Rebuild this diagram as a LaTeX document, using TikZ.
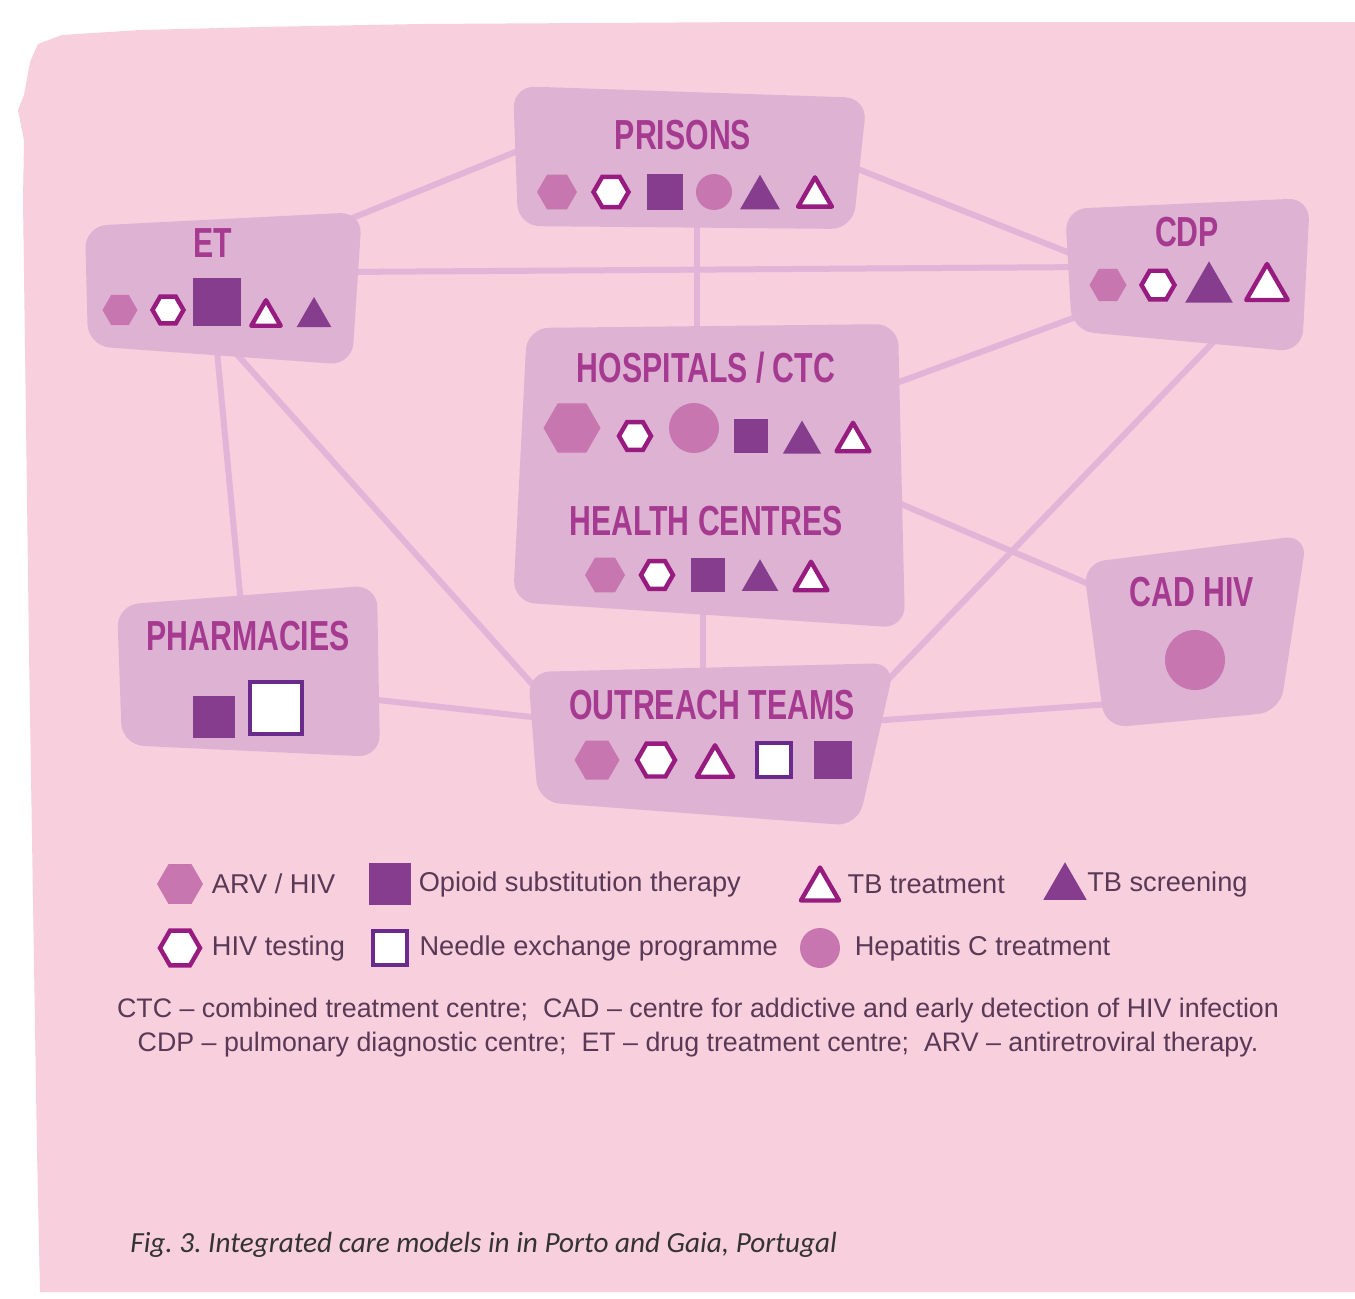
\documentclass[tikz,border=0pt]{standalone}
\usepackage{fontspec}
\setmainfont{Liberation Sans}
\newfontfamily\boxfont{Liberation Sans}[FakeStretch=0.72]
\newfontfamily\capfont{Carlito}
\usepackage{tikz}
\usetikzlibrary{shapes.geometric,positioning}
\usepackage{xcolor}
\frenchspacing

\definecolor{bgpink}{HTML}{F8CFDC}
\definecolor{boxlilac}{HTML}{DDB2D3}
\definecolor{linklilac}{HTML}{E2B4D7}
\definecolor{titlemag}{HTML}{A63A90}
\definecolor{arvpink}{HTML}{C876AF}
\definecolor{ostpurple}{HTML}{873D8E}
\definecolor{ringmag}{HTML}{981C80}
\definecolor{nepviolet}{HTML}{6B2B8C}
\definecolor{legtext}{HTML}{5A3957}

\begin{document}
\begin{tikzpicture}[
    x=0.5pt, y=-0.5pt,
    box/.style={fill=boxlilac, rounded corners=11pt},
    link/.style={draw=linklilac, line width=3pt},
    boxtitle/.style={text=titlemag, inner sep=0pt, font=\boxfont\bfseries\fontsize{21}{24}\selectfont},
    arv/.style={regular polygon, regular polygon sides=6, fill=arvpink, inner sep=0pt, minimum size=#1},
    hivt/.style={regular polygon, regular polygon sides=6, fill=white, draw=ringmag, line width=2.2pt, inner sep=0pt, minimum size=#1},
    ost/.style={rectangle, fill=ostpurple, inner sep=0pt, minimum size=#1},
    nep/.style={rectangle, fill=white, draw=nepviolet, line width=2.2pt, inner sep=0pt, minimum size=#1},
    hcv/.style={circle, fill=arvpink, inner sep=0pt, minimum size=#1},
    tbs/.style={regular polygon, regular polygon sides=3, fill=ostpurple, inner sep=0pt, minimum size=#1, yshift=-#1/8},
    tbt/.style={regular polygon, regular polygon sides=3, fill=white, draw=ringmag, line width=2.2pt, line join=round, inner sep=0pt, minimum size=#1, yshift=-#1/8},
    legtext/.style={text=legtext, inner sep=0pt, font=\fontsize{13.6}{15}\selectfont},
    notetext/.style={text=legtext, inner sep=0pt, font=\fontsize{13.4}{15}\selectfont},
    captext/.style={text=black!80, inner sep=0pt, font=\capfont\itshape\fontsize{14.6}{16}\selectfont}
]
\useasboundingbox (0,0) rectangle (1355,1298);
\fill[white] (0,0) rectangle (1355,1298);
% paper
\fill[bgpink] (30,62) -- (38,44) -- (62,35) -- (140,30) -- (260,27) -- (420,24)
    -- (760,22) -- (1355,22) -- (1355,1292) -- (40,1292) -- (37,1150) -- (33,900)
    -- (29,650) -- (26,420) -- (23,200) -- (24,140) -- (18,110) -- (24,95) -- cycle;

% connector ends
\coordinate (et-ne) at (340,223);
\coordinate (prisons-w) at (540,142);
\coordinate (prisons-e) at (840,162);
\coordinate (cdp-w) at (1090,261);
\coordinate (et-e) at (340,272);
\coordinate (cdp-w2) at (1090,267);
\coordinate (prisons-s) at (697,215);
\coordinate (hosp-n) at (697,345);
\coordinate (hosp-ne) at (880,389);
\coordinate (cdp-sw) at (1095,310);
\coordinate (cdp-s) at (1225,330);
\coordinate (out-ne) at (880,688);
\coordinate (et-s) at (216,340);
\coordinate (pharm-n) at (242,615);
\coordinate (et-se) at (225,341);
\coordinate (out-nw) at (550,704);
\coordinate (hosp-e) at (880,495);
\coordinate (cad-w) at (1105,591);
\coordinate (hosp-s) at (703,610);
\coordinate (out-n) at (703,680);
\coordinate (pharm-e) at (360,698);
\coordinate (out-w) at (550,719);
\coordinate (out-e) at (870,721);
\coordinate (cad-sw) at (1125,703);

% connectors
\draw[link] (et-ne) -- (prisons-w);
\draw[link] (prisons-e) -- (cdp-w);
\draw[link] (et-e) -- (cdp-w2);
\draw[link] (prisons-s) -- (hosp-n);
\draw[link] (hosp-ne) -- (cdp-sw);
\draw[link] (cdp-s) -- (out-ne);
\draw[link] (et-s) -- (pharm-n);
\draw[link] (et-se) -- (out-nw);
\draw[link] (hosp-e) -- (cad-w);
\draw[link] (hosp-s) -- (out-n);
\draw[link] (pharm-e) -- (out-w);
\draw[link] (out-e) -- (cad-sw);

% boxes
\fill[box] (513,86) -- (867,98) -- (853,229) -- (518,226) -- cycle;
\fill[box] (85,226) -- (362,212) -- (352,365) -- (88,346) -- cycle;
\fill[box] (1065,209) -- (1310,198) -- (1302,352) -- (1072,331) -- cycle;
\fill[box] (527,328) -- (898,324) -- (905,628) -- (513,602) -- cycle;
\fill[box] (1083,563) -- (1307,535) -- (1280,712) -- (1105,728) -- cycle;
\fill[box] (117,605) -- (377,585) -- (380,757) -- (122,745) -- cycle;
\fill[box] (528,672) -- (895,663) -- (858,826) -- (538,802) -- cycle;

% titles
\node[boxtitle] (prisons) at (683,135) {PRISONS};
\node[boxtitle] (et) at (213,243) {ET};
\node[boxtitle] (cdp) at (1187,232) {CDP};
\node[boxtitle] (hosp) at (706,368) {HOSPITALS / CTC};
\node[boxtitle] (health) at (706,521) {HEALTH CENTRES};
\node[boxtitle] (cad) at (1192,592) {CAD HIV};
\node[boxtitle] (pharm) at (248,636) {PHARMACIES};
\node[boxtitle] (out) at (712,705) {OUTREACH TEAMS};

% prisons
\node[arv=20pt] (pr1) at (557,192) {};
\node[hivt=17.5pt] (pr2) at (611,192) {};
\node[ost=18pt] (pr3) at (665,192) {};
\node[hcv=18pt] (pr4) at (714,192) {};
\node[tbs=23pt] (pr5) at (760,192) {};
\node[tbt=19.5pt] (pr6) at (815,192) {};
% et
\node[arv=17.5pt] (et1) at (120,310) {};
\node[hivt=15.5pt] (et2) at (168,310) {};
\node[ost=24pt] (et3) at (217,302) {};
\node[tbt=17pt] (et4) at (266,313) {};
\node[tbs=20pt] (et5) at (314,312) {};
% cdp
\node[arv=18.5pt] (cdp1) at (1108,285) {};
\node[hivt=16.5pt] (cdp2) at (1158,285) {};
\node[tbs=27.5pt] (cdp3) at (1209,282) {};
\node[tbt=24pt] (cdp4) at (1267,282) {};
% hospitals
\node[arv=28.5pt] (ho1) at (572,428) {};
\node[hivt=16pt] (ho2) at (635,436) {};
\node[hcv=25pt] (ho3) at (694,428) {};
\node[ost=17pt] (ho4) at (751,436) {};
\node[tbs=22pt] (ho5) at (802,437) {};
\node[tbt=19pt] (ho6) at (853,437) {};
% health centres
\node[arv=20pt] (hc1) at (605,575) {};
\node[hivt=16pt] (hc2) at (657,575) {};
\node[ost=17pt] (hc3) at (708,575) {};
\node[tbs=21pt] (hc4) at (760,575) {};
\node[tbt=19pt] (hc5) at (811,576) {};
% cad hiv
\node[hcv=30pt] (cad1) at (1195,660) {};
% pharmacies
\node[ost=21pt] (ph1) at (214,717) {};
\node[nep=26pt] (ph2) at (276,708) {};
% outreach
\node[arv=22.5pt] (ou1) at (597,760) {};
\node[hivt=19pt] (ou2) at (656,760) {};
\node[tbt=21pt] (ou3) at (715,761) {};
\node[nep=17pt] (ou4) at (774,760) {};
\node[ost=19pt] (ou5) at (833,760) {};

% legend
\node[arv=23pt] (leg1) at (180,884) {};
\node[legtext, right=4pt of leg1] (leg1t) {ARV / HIV};
\node[ost=21pt] (leg2) at (390,884) {};
\node[legtext, right=3.5pt of leg2] (leg2t) {Opioid substitution therapy};
\node[tbt=22pt] (leg3) at (820,884) {};
\node[legtext, right=6pt of leg3, yshift=2.7pt] (leg3t) {TB treatment};
\node[tbs=25pt] (leg4) at (1065,881) {};
\node[legtext, right=3.5pt of leg4, yshift=1.6pt] (leg4t) {TB screening};
\node[hivt=20pt] (leg5) at (180,948) {};
\node[legtext, right=4.5pt of leg5] (leg5t) {HIV testing};
\node[nep=17pt] (leg6) at (390,948) {};
\node[legtext, right=5pt of leg6] (leg6t) {Needle exchange programme};
\node[hcv=20pt] (leg7) at (820,948) {};
\node[legtext, right=7pt of leg7] (leg7t) {Hepatitis C treatment};

% notes and caption
\node[notetext] (note1) at (698,1011) {CTC -- combined treatment centre;\ \ CAD -- centre for addictive and early detection of HIV infection};
\node[notetext, below=4pt of note1] (note2) {CDP -- pulmonary diagnostic centre;\ \ ET -- drug treatment centre;\ \ ARV -- antiretroviral therapy.};
\node[captext, anchor=west] (cap) at (130,1245) {Fig. 3. Integrated care models in in Porto and Gaia, Portugal};
\end{tikzpicture}
\end{document}
